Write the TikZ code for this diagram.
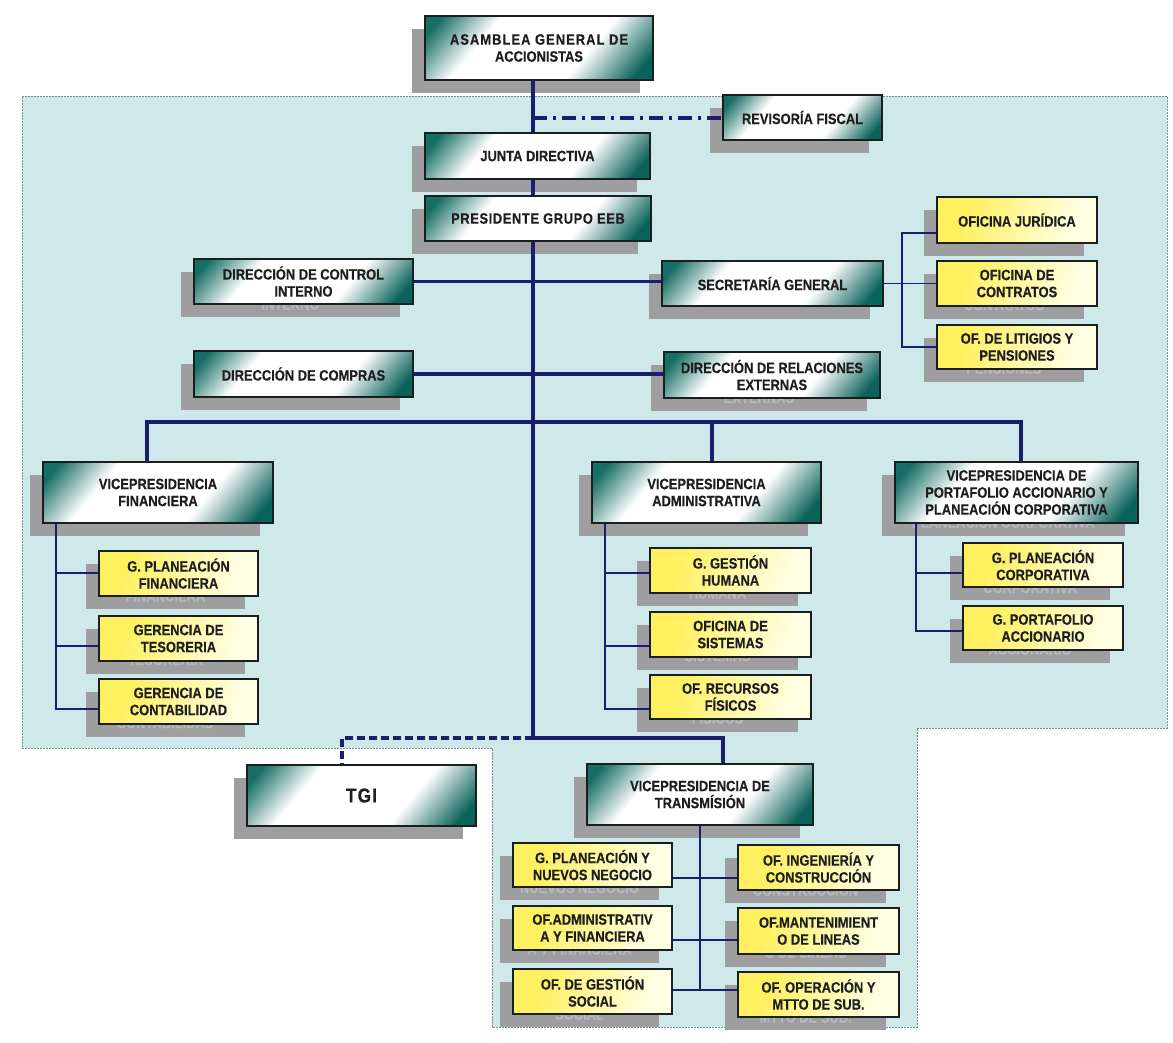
\documentclass[tikz,border=0pt]{standalone}
\usepackage{fontspec}
\newfontfamily\boxfont{Liberation Sans}[FakeStretch=0.86, FakeBold=0.3]

% colours of the chart
\definecolor{panel}{RGB}{207,232,234}
\definecolor{panelrule}{RGB}{125,140,145}
\definecolor{navy}{RGB}{25,30,110}
\definecolor{edge}{RGB}{25,30,30}
\definecolor{txt}{RGB}{30,30,30}
\definecolor{shadowgray}{RGB}{158,158,160}
\definecolor{ghost}{RGB}{182,184,190}
\definecolor{tealA}{RGB}{22,110,100}
\definecolor{tealB}{RGB}{10,98,90}
\definecolor{yelA}{RGB}{255,240,95}
\definecolor{yelB}{RGB}{255,255,228}

% glassy teal and yellow fills of the boxes
\pgfdeclarehorizontalshading{tealglass}{100bp}{color(0bp)=(tealA); color(19bp)=(tealA); color(34bp)=(white); color(63bp)=(white); color(80bp)=(tealB); color(100bp)=(tealB)}
\pgfdeclarehorizontalshading{yellowglass}{100bp}{color(0bp)=(yelA); color(30bp)=(yelA); color(72bp)=(yelB); color(100bp)=(yelB)}

\tikzset{
  basefont/.style={font=\boxfont\bfseries\fontsize{15}{17}\selectfont, align=center, inner sep=0pt, text=txt},
  greenbox/.style={basefont, draw=edge, line width=1.7pt, shade, shading=tealglass, shading angle=-40},
  greenbox shadow/.style={basefont, fill=shadowgray, text=ghost},
  yellowbox/.style={basefont, draw=edge, line width=1.7pt, shade, shading=yellowglass, shading angle=-20},
  yellowbox shadow/.style={basefont, fill=shadowgray, text=ghost},
  bigbox/.style={greenbox, font=\boxfont\bfseries\fontsize{20}{22}\selectfont},
  bigbox shadow/.style={greenbox shadow, font=\boxfont\bfseries\fontsize{20}{22}\selectfont},
  mainline/.style={draw=navy, line width=3.2pt},
  thinline/.style={draw=navy, line width=1.6pt},
}

% box with its drop shadow: name, x1, y1, x2, y2, kind, text
\newcommand\orgbox[7]{%
  \node[#6 shadow, minimum width={#4-#2}, minimum height={#5-#3}] (#1-sh) at ({(#2+#4)/2-13},{(#3+#5)/2+13}) {#7};
  \node[#6, minimum width={#4-#2}, minimum height={#5-#3}] (#1) at ({(#2+#4)/2},{(#3+#5)/2}) {#7};
}

\begin{document}
\begin{tikzpicture}[x=1pt,y=-1pt]
\useasboundingbox (0,0) rectangle (1173,1042);
\fill[white] (0,0) rectangle (1173,1042);

% shaded panel behind the group
\filldraw[fill=panel, draw=panelrule, line width=0.9pt, dash pattern=on 1.6pt off 1.4pt]
  (22,96) -- (1167,96) -- (1167,728) -- (917,728) -- (917,1027) -- (492,1027) -- (492,748) -- (22,748) -- cycle;

% top of the structure
\orgbox{asm}{425}{16}{653}{80}{greenbox}{\addfontfeature{LetterSpace=7}\fontsize{15}{19}\selectfont ASAMBLEA GENERAL DE\\ACCIONISTAS}
\orgbox{rev}{723}{95}{882}{140}{greenbox}{REVISORÍA FISCAL}
\orgbox{junta}{425}{133}{650}{179}{greenbox}{JUNTA DIRECTIVA}
\orgbox{pres}{425}{196}{651}{241}{greenbox}{\addfontfeature{LetterSpace=4}PRESIDENTE GRUPO EEB}

% staff units
\orgbox{dci}{194}{259}{413}{304}{greenbox}{DIRECCIÓN DE CONTROL\\INTERNO}
\orgbox{sec}{662}{261}{883}{306}{greenbox}{SECRETARÍA GENERAL}
\orgbox{dcomp}{194}{351}{413}{397}{greenbox}{DIRECCIÓN DE COMPRAS}
\orgbox{drel}{664}{352}{880}{398}{greenbox}{DIRECCIÓN DE RELACIONES\\EXTERNAS}
\orgbox{ojur}{937}{197}{1097}{243}{yellowbox}{OFICINA JURÍDICA}
\orgbox{ocon}{937}{261}{1097}{306}{yellowbox}{OFICINA DE\\CONTRATOS}
\orgbox{olit}{937}{325}{1097}{369}{yellowbox}{OF. DE LITIGIOS Y\\PENSIONES}

% vice-presidencies
\orgbox{vpf}{43}{462}{273}{523}{greenbox}{VICEPRESIDENCIA\\FINANCIERA}
\orgbox{vpa}{592}{462}{821}{523}{greenbox}{VICEPRESIDENCIA\\ADMINISTRATIVA}
\orgbox{vpp}{895}{462}{1138}{523}{greenbox}{VICEPRESIDENCIA DE\\PORTAFOLIO ACCIONARIO Y\\PLANEACIÓN CORPORATIVA}

\orgbox{gpf}{99}{551}{258}{596}{yellowbox}{G. PLANEACIÓN\\FINANCIERA}
\orgbox{gte}{99}{616}{258}{661}{yellowbox}{GERENCIA DE\\TESORERIA}
\orgbox{gco}{99}{679}{258}{724}{yellowbox}{GERENCIA DE\\CONTABILIDAD}

\orgbox{ggh}{650}{548}{811}{593}{yellowbox}{G. GESTIÓN\\HUMANA}
\orgbox{osi}{650}{612}{811}{657}{yellowbox}{OFICINA DE\\SISTEMAS}
\orgbox{orf}{650}{675}{811}{719}{yellowbox}{OF. RECURSOS\\FÍSICOS}

\orgbox{gpc}{963}{543}{1123}{587}{yellowbox}{G. PLANEACIÓN\\CORPORATIVA}
\orgbox{gpa}{963}{606}{1123}{650}{yellowbox}{G. PORTAFOLIO\\ACCIONARIO}

% TGI and transmission
\orgbox{tgi}{247}{765}{476}{826}{bigbox}{\addfontfeature{LetterSpace=6}TGI}
\orgbox{vpt}{587}{764}{813}{825}{greenbox}{VICEPRESIDENCIA DE\\TRANSMÍSIÓN}

\orgbox{gpn}{513}{843}{672}{887}{yellowbox}{G. PLANEACIÓN Y\\NUEVOS NEGOCIO}
\orgbox{oaf}{513}{906}{672}{950}{yellowbox}{OF.ADMINISTRATIV\\A Y FINANCIERA}
\orgbox{ogs}{513}{969}{672}{1014}{yellowbox}{OF. DE GESTIÓN\\SOCIAL}
\orgbox{oic}{738}{845}{899}{890}{yellowbox}{OF. INGENIERÍA Y\\CONSTRUCCIÓN}
\orgbox{oml}{738}{908}{899}{954}{yellowbox}{OF.MANTENIMIENT\\O DE LINEAS}
\orgbox{oos}{738}{972}{899}{1017}{yellowbox}{OF. OPERACIÓN Y\\MTTO DE SUB.}

% junction points
\coordinate (trunk) at (533,0);
\coordinate (revjoin) at (533,118);
\coordinate (hub) at (533,738);
\coordinate (busL) at (147,422);
\coordinate (busA) at (712,422);
\coordinate (busR) at (1021,422);
\coordinate (tgiturn) at (342,738);
\coordinate (vptturn) at (723,738);
\coordinate (secrail) at (902,0);
\coordinate (finrail) at (56,0);
\coordinate (admrail) at (605,0);
\coordinate (porrail) at (916,0);
\coordinate (trarail) at (700,0);

% main line of command
\draw[mainline] (asm.south -| trunk) -- (junta.north -| trunk);
\draw[mainline] (junta.south -| trunk) -- (pres.north -| trunk);
\draw[mainline] (pres.south -| trunk) -- (hub);
\draw[mainline, dash pattern=on 14pt off 6pt on 3pt off 6pt] (revjoin) -- (revjoin -| rev.west);
\draw[mainline] (dci.east) -- (dci.east -| sec.west);
\draw[mainline] (dcomp.east) -- (dcomp.east -| drel.west);
\draw[mainline] (vpf.north -| busL) -- (busL) -- (busR) -- (vpp.north -| busR);
\draw[mainline] (busA) -- (vpa.north -| busA);
\draw[mainline] (hub) -- (vptturn) -- (vpt.north -| vptturn);
\draw[mainline, dash pattern=on 8pt off 4pt] (hub) -- (tgiturn) -- (tgi.north -| tgiturn);

% secretaría offices
\draw[thinline] (sec.east) -- (sec.east -| ojur.west);
\draw[thinline] (ojur.west |- 0,233) -| (secrail |- olit.west) -- (olit.west);

% financial management
\draw[thinline] (vpf.south -| finrail) |- (gco.west |- 0,709);
\draw[thinline] (finrail |- 0,573) -- (gpf.west |- 0,573);
\draw[thinline] (finrail |- 0,646) -- (gte.west |- 0,646);

% administrative management
\draw[thinline] (vpa.south -| admrail) |- (orf.west |- 0,709);
\draw[thinline] (admrail |- 0,573) -- (ggh.west |- 0,573);
\draw[thinline] (admrail |- 0,646) -- (osi.west |- 0,646);

% portfolio management
\draw[thinline] (vpp.south -| porrail) |- (gpa.west |- 0,631);
\draw[thinline] (porrail |- 0,573) -- (gpc.west |- 0,573);

% transmission offices
\draw[thinline] (vpt.south -| trarail) -- (trarail |- 0,990);
\draw[thinline] (gpn.east |- 0,878) -- (oic.west |- 0,878);
\draw[thinline] (oaf.east |- 0,940) -- (oml.west |- 0,940);
\draw[thinline] (ogs.east |- 0,990) -- (oos.west |- 0,990);
\end{tikzpicture}
\end{document}
